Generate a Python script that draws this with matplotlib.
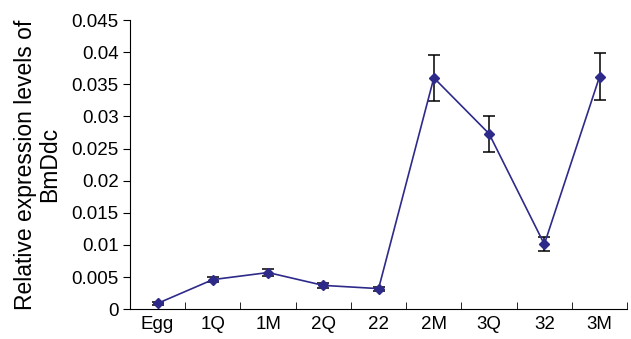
import numpy as np
import matplotlib.pyplot as plt

plt.rcParams['font.family'] = ['Liberation Sans', 'DejaVu Sans']

stages = ['Egg', '1Q', '1M', '2Q', '22', '2M', '3Q', '32', '3M']
levels = [0.0009, 0.0046, 0.0057, 0.0037, 0.0032, 0.0360, 0.0273, 0.0101, 0.0362]
errors = [0.0002, 0.0004, 0.0005, 0.0004, 0.0003, 0.0036, 0.0028, 0.0011, 0.0036]

fig = plt.figure(figsize=(6.31, 3.39), dpi=100)
ax = fig.add_axes([0.206, 0.088, 0.788, 0.853])

x = np.arange(len(stages))
ax.errorbar(x, levels, yerr=errors, fmt='none', ecolor='black', elinewidth=1.1,
            capsize=4, capthick=1.1, zorder=2)
ax.plot(x, levels, color='#2e2a8a', lw=1.2, marker='D', ms=5.5, zorder=3)

ax.set_xlim(-0.5, len(stages) - 0.5)
ax.set_ylim(0, 0.045)
ax.set_yticks(np.arange(0, 0.0451, 0.005))
ax.set_yticklabels(['0', '0.005', '0.01', '0.015', '0.02', '0.025', '0.03',
                    '0.035', '0.04', '0.045'])
ax.set_xticks(x)
ax.set_xticklabels(stages)
ax.set_xticks(np.arange(0.5, len(stages), 1), minor=True)
ax.tick_params(axis='x', which='major', length=0, pad=5, labelsize=13.5)
ax.tick_params(axis='x', which='minor', direction='in', length=5)
ax.tick_params(axis='y', direction='out', length=5, pad=3, labelsize=13.5)

for s in ['top', 'right']:
    ax.spines[s].set_visible(False)

fig.text(0.06, 0.515, 'Relative expression levels of\nBmDdc', rotation=90,
         ha='center', va='center', fontsize=16.5, linespacing=1.05)

fig.savefig('out.png', dpi=100)
